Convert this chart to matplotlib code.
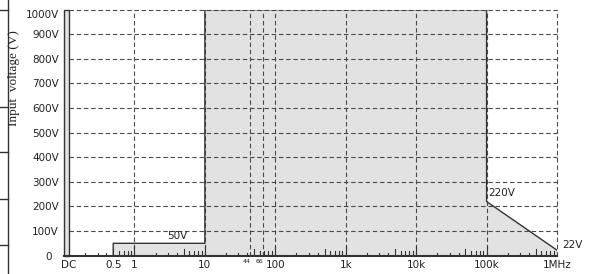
import matplotlib
matplotlib.use("Agg")
import matplotlib.pyplot as plt
from matplotlib.lines import Line2D
from matplotlib.transforms import ScaledTranslation

# data
freq_ticks = [0.115, 0.5, 1, 10, 100, 1e3, 1e4, 1e5, 1e6]
freq_labels = ["DC", "0.5", "1", "10", "100", "1k", "10k", "100k", "1MHz"]
volt_ticks = [0, 100, 200, 300, 400, 500, 600, 700, 800, 900, 1000]
volt_labels = ["0", "100V", "200V", "300V", "400V", "500V",
               "600V", "700V", "800V", "900V", "1000V"]
limit_freq = [0.5, 0.5, 10, 10, 1e5, 1e5, 1e6, 1e6]
limit_volt = [0, 50, 50, 1000, 1000, 220, 22, 0]
dc_freq = [0.1, 0.118]
dc_volt = 1000
marker_freqs = [44, 66]
grid_freqs = [1, 10, 100, 1e3, 1e4, 1e5, 1e6]

FILL = "#e1e2e1"
EDGE = "#333333"
GRID = "#4a4a4a"
TXT = "#222222"

fig = plt.figure(figsize=(5.94, 2.74), dpi=100)
ax = fig.add_axes([64 / 594, 1 - 255.6 / 274, (557 - 64) / 594, (255.6 - 9.7) / 274])
ax.set_xscale("log")
ax.set_xlim(0.1, 1e6)
ax.set_ylim(0, 1000)

# limit area
ax.fill(limit_freq, limit_volt, facecolor=FILL, edgecolor="none", zorder=1)
ax.fill([dc_freq[0], dc_freq[1], dc_freq[1], dc_freq[0]], [0, 0, dc_volt, dc_volt],
        facecolor=FILL, edgecolor=EDGE, lw=1.0, zorder=4, clip_on=False)

# dashed grid
dash = dict(color=GRID, lw=0.8, ls=(0, (4, 2.5)), zorder=2, clip_on=False)
for v in volt_ticks[1:]:
    ax.axhline(v, xmin=0.01, **dash)
for f in grid_freqs + marker_freqs:
    ax.axvline(f, **dash)

ax.plot(limit_freq[:-1], limit_volt[:-1], color=EDGE, lw=1.0, zorder=3)

# minor ticks, drawn inward with different lengths
tr = ax.get_xaxis_transform()
h_ax = 245.9
for dec in [0.1, 1, 10, 100, 1e3, 1e4, 1e5]:
    for m in range(2, 10):
        if m == 5:
            L = 7
        elif m < 5:
            L = 3
        else:
            L = 4.5
        ax.plot([dec * m, dec * m], [0, L / h_ax], transform=tr, color=EDGE, lw=0.8, zorder=3)
    if dec > 0.1:
        ax.plot([dec, dec], [0, 10 / h_ax], transform=tr, color=EDGE, lw=0.8, zorder=3)

for s in ["top", "right"]:
    ax.spines[s].set_visible(False)
ax.spines["left"].set_visible(False)
ax.spines["bottom"].set_color(EDGE)
ax.spines["bottom"].set_linewidth(1.5)
ax.spines["bottom"].set_zorder(5)

ax.set_xticks(freq_ticks)
ax.set_xticklabels(freq_labels)
ax.xaxis.set_minor_locator(matplotlib.ticker.NullLocator())
ax.set_yticks(volt_ticks)
ax.set_yticklabels(volt_labels)
ax.tick_params(axis="both", length=0, labelsize=7.5, colors=TXT)
ax.tick_params(axis="x", pad=3.2)
ax.tick_params(axis="y", pad=3.8)

# nudge a couple of labels like the original
lbls = ax.get_yticklabels()
lbls[0].set_transform(lbls[0].get_transform() + ScaledTranslation(-0.07, 0, fig.dpi_scale_trans))
lbls[-1].set_transform(lbls[-1].get_transform() + ScaledTranslation(0, -0.045, fig.dpi_scale_trans))

for f in marker_freqs:
    ax.annotate(str(f), xy=(f, 0), xycoords=("data", "axes fraction"), xytext=(-2.5, -2.5),
                textcoords="offset points", ha="center", va="top", fontsize=4.5, color=TXT)

ax.text(4.1, 58, "50V", ha="center", va="bottom", fontsize=7.5, color=TXT, zorder=6)
ax.text(1.07e5, 254, "220V", ha="left", va="center", fontsize=7.5, color=TXT, zorder=6)
ax.text(1.2e6, 45, "22V", ha="left", va="center", fontsize=7.5, color=TXT, clip_on=False)

fig.text(14.5 / 594, 1 - 78 / 274, "Input  voltage (V)", rotation=90, ha="center", va="center",
         family="Liberation Serif", fontsize=9.5, color=TXT)

# cropped frame remnants on the left edge
fig.add_artist(Line2D([8 / 594, 8 / 594], [0, 1], transform=fig.transFigure, color=EDGE, lw=1))
for yy in [10, 107, 152, 199, 245]:
    fig.add_artist(Line2D([0, 8 / 594], [1 - yy / 274] * 2, transform=fig.transFigure, color=EDGE, lw=1))

fig.savefig("out.png", dpi=100)
